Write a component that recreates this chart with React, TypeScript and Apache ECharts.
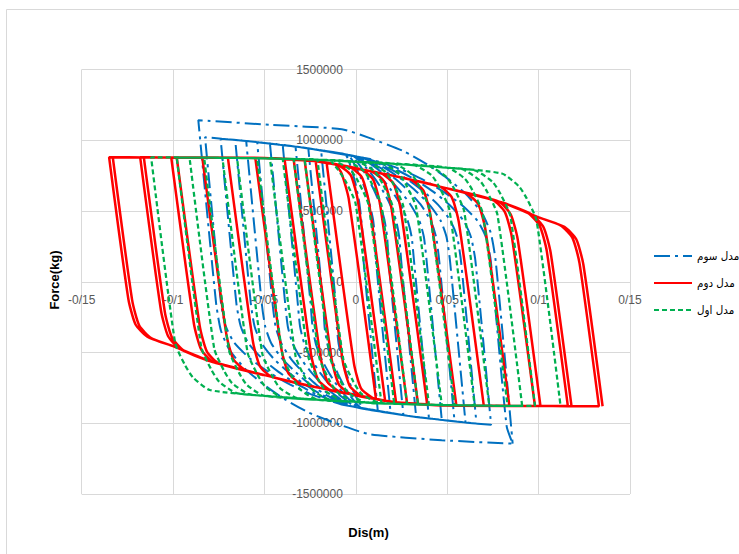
import React, { useEffect, useRef } from "react";
import * as echarts from "echarts";

const seriesNames = ["مدل سوم", "مدل دوم", "مدل اول"];
const seriesColors = ["#0070C0", "#FF0000", "#00B050"];

const xTickValues = [-0.15, -0.1, -0.05, 0, 0.05, 0.1, 0.15];
const xTickLabels = ["-0/15", "-0/1", "-0/05", "0", "0/05", "0/1", "0/15"];
const yTickValues = [-1500000, -1000000, -500000, 0, 500000, 1000000, 1500000];
const yTickLabels = ["-1500000", "-1000000", "-500000", "0", "500000", "1000000", "1500000"];

// مدل سوم (blue, dash-dot) — displacement (m), force (kg)
const model3Points: [number, number][] = [
  [-0.012, 911000], [-0.0055, 897000], [-0.0011, 739000], [0.0019, 558000], [0.0038, 321000], [0.0042, 150000], [0.012, -911000],
  [0.0042, -894000], [0.0002, -817000], [-0.0027, -736000], [-0.0051, -653000], [-0.0074, -556000], [-0.0094, -441000], [-0.0104, -320000], [-0.011, -150000], [-0.019, 926000],
  [-0.0042, 894000], [-0.0002, 817000], [0.0027, 736000], [0.0051, 653000], [0.0074, 556000], [0.0094, 441000], [0.0104, 320000], [0.011, 150000], [0.019, -926000],
  [0.0029, -891000], [-0.0026, -814000], [-0.0065, -734000], [-0.0098, -651000], [-0.013, -555000], [-0.0156, -440000], [-0.0171, -320000], [-0.0179, -150000], [-0.026, 941000],
  [-0.0029, 891000], [0.0026, 814000], [0.0065, 734000], [0.0098, 651000], [0.013, 555000], [0.0156, 440000], [0.0171, 320000], [0.0179, 150000], [0.026, -941000],
  [0.0016, -888000], [-0.0053, -811000], [-0.0103, -731000], [-0.0145, -649000], [-0.0185, -553000], [-0.0219, -439000], [-0.0237, -319000], [-0.0248, -150000], [-0.033, 955000],
  [-0.0016, 888000], [0.0053, 811000], [0.0103, 731000], [0.0145, 649000], [0.0185, 553000], [0.0219, 439000], [0.0237, 319000], [0.0248, 150000], [0.033, -955000],
  [0.0003, -886000], [-0.0081, -809000], [-0.0142, -730000], [-0.0193, -648000], [-0.0241, -552000], [-0.0282, -438000], [-0.0305, -319000], [-0.0318, -150000], [-0.04, 965000],
  [-0.03, 950000], [-0.0003, 886000], [0.0081, 809000], [0.0142, 730000], [0.0193, 648000], [0.0241, 552000], [0.0282, 438000], [0.0305, 319000], [0.0318, 150000], [0.04, -965000],
  [0.03, -950000], [-0.0011, -883000], [-0.0109, -807000], [-0.0181, -728000], [-0.024, -646000], [-0.0297, -550000], [-0.0346, -437000], [-0.0372, -318000], [-0.0387, -150000], [-0.047, 976000],
  [-0.03, 950000], [0.0011, 883000], [0.0109, 807000], [0.0181, 728000], [0.024, 646000], [0.0297, 550000], [0.0346, 437000], [0.0372, 318000], [0.0387, 150000], [0.047, -976000],
  [0.03, -950000], [-0.0024, -879000], [-0.0137, -803000], [-0.0219, -724000], [-0.0287, -643000], [-0.0353, -548000], [-0.0408, -435000], [-0.0439, -317000], [-0.0456, -150000], [-0.054, 986000],
  [-0.03, 950000], [0, 885000], [0.0024, 879000], [0.0137, 803000], [0.0219, 724000], [0.0287, 643000], [0.0353, 548000], [0.0408, 435000], [0.0439, 317000], [0.0456, 150000], [0.054, -986000],
  [0.03, -950000], [0, -885000], [-0.0035, -877000], [-0.0161, -801000], [-0.0252, -723000], [-0.0328, -641000], [-0.0401, -547000], [-0.0463, -434000], [-0.0496, -316000], [-0.0515, -150000], [-0.06, 995000],
  [-0.03, 950000], [0, 885000], [0.0035, 877000], [0.0161, 801000], [0.0252, 723000], [0.0328, 641000], [0.0401, 547000], [0.0463, 434000], [0.0496, 316000], [0.0515, 150000], [0.06, -995000],
  [0.03, -950000], [0, -885000], [-0.0047, -874000], [-0.0185, -799000], [-0.0285, -721000], [-0.0369, -639000], [-0.0449, -545000], [-0.0517, -433000], [-0.0554, -316000], [-0.0575, -150000], [-0.066, 1002000],
  [-0.06, 995000], [-0.03, 950000], [0, 885000], [0.0047, 874000], [0.0185, 799000], [0.0285, 721000], [0.0369, 639000], [0.0449, 545000], [0.0517, 433000], [0.0554, 316000], [0.0575, 150000], [0.066, -1002000],
  [0.06, -995000], [0.03, -950000], [0, -885000], [-0.0062, -870000], [-0.0217, -795000], [-0.033, -717000], [-0.0423, -637000], [-0.0513, -543000], [-0.0589, -432000], [-0.063, -315000], [-0.0654, -150000], [-0.074, 1011000],
  [-0.06, 995000], [-0.03, 950000], [0, 885000], [0.0062, 870000], [0.0217, 795000], [0.033, 717000], [0.0423, 637000], [0.0513, 543000], [0.0589, 432000], [0.063, 315000], [0.0654, 150000], [0.074, -1011000],
  [0.06, -995000], [0.03, -950000], [0, -885000], [-0.0078, -867000], [-0.0251, -792000], [-0.0377, -715000], [-0.0481, -635000], [-0.0581, -541000], [-0.0666, -430000], [-0.0712, -314000], [-0.0738, -150000], [-0.0825, 1021000],
  [-0.06, 995000], [-0.03, 950000], [0, 885000], [0.0078, 867000], [0.0251, 792000], [0.0377, 715000], [0.0481, 635000], [0.0581, 541000], [0.0666, 430000], [0.0712, 314000], [0.0738, 150000], [0.0825, -1021000],
  [0.0858, -1144000], [0.047, -1120000], [0.0077, -1078000], [-0.0077, -1015000], [-0.0257, -925000], [-0.0388, -831000], [-0.0497, -734000], [-0.0601, -621000], [-0.0689, -487000], [-0.0738, -346000], [-0.0765, -148000], [-0.0862, 1142000],
  [-0.047, 1109000], [-0.0077, 1078000], [0.0077, 1015000], [0.0257, 925000], [0.0388, 831000], [0.0497, 734000], [0.0601, 621000], [0.0689, 487000], [0.0738, 346000], [0.0765, 148000], [0.0858, -1144000],
];

// مدل دوم (red, solid)
const model2Points: [number, number][] = [
  [-0.011, 828000], [-0.0078, 766000], [-0.0039, 586000], [0.011, -828000],
  [0.0093, -823000], [0.0028, -753000], [-0.0011, -573000], [-0.016, 840000],
  [-0.0093, 823000], [-0.0028, 753000], [0.0011, 573000], [0.016, -840000],
  [0.0032, -808000], [-0.0033, -738000], [-0.0072, -558000], [-0.022, 852000],
  [-0.0032, 808000], [0.0033, 738000], [0.0072, 558000], [0.022, -852000],
  [-0.0029, -793000], [-0.0094, -723000], [-0.0133, -543000], [-0.028, 857000],
  [-0.02, 850000], [0.0029, 793000], [0.0094, 723000], [0.0133, 543000], [0.028, -857000],
  [0.02, -850000], [0, -800000], [-0.009, -777000], [-0.0155, -707000], [-0.0194, -527000], [-0.034, 862000],
  [-0.02, 850000], [0, 800000], [0.009, 777000], [0.0155, 707000], [0.0194, 527000], [0.034, -862000],
  [0.02, -850000], [0, -800000], [-0.0141, -765000], [-0.0206, -694000], [-0.0245, -514000], [-0.039, 866000],
  [-0.02, 850000], [0, 800000], [0.0141, 765000], [0.0206, 694000], [0.0245, 514000], [0.039, -866000],
  [0.02, -850000], [0, -800000], [-0.02, -750000], [-0.0305, -718000], [-0.037, -644000], [-0.0409, -464000], [-0.055, 875000],
  [-0.05, 875000], [-0.02, 850000], [0, 800000], [0.02, 750000], [0.0305, 718000], [0.037, 644000], [0.0409, 464000], [0.055, -875000],
  [0.05, -875000], [0.02, -850000], [0, -800000], [-0.02, -750000], [-0.046, -672000], [-0.0525, -596000], [-0.0564, -416000], [-0.07, 876000],
  [-0.05, 875000], [-0.02, 850000], [0, 800000], [0.02, 750000], [0.046, 672000], [0.0525, 596000], [0.0564, 416000], [0.07, -876000],
  [0.05, -875000], [0.02, -850000], [0, -800000], [-0.02, -750000], [-0.05, -660000], [-0.0605, -625000], [-0.067, -548000], [-0.0709, -368000], [-0.084, 877000],
  [-0.05, 875000], [-0.02, 850000], [0, 800000], [0.02, 750000], [0.05, 660000], [0.0605, 625000], [0.067, 548000], [0.0709, 368000], [0.084, -877000],
  [0.05, -875000], [0.02, -850000], [0, -800000], [-0.02, -750000], [-0.05, -660000], [-0.075, -577000], [-0.0815, -494000], [-0.0854, -314000], [-0.098, 878000],
  [-0.05, 875000], [-0.02, 850000], [0, 800000], [0.02, 750000], [0.05, 660000], [0.075, 577000], [0.0815, 494000], [0.0854, 314000], [0.098, -878000],
  [0.05, -875000], [0.02, -850000], [0, -800000], [-0.02, -750000], [-0.05, -660000], [-0.0782, -566000], [-0.0847, -477000], [-0.0886, -297000], [-0.101, 878000],
  [-0.05, 875000], [-0.02, 850000], [0, 800000], [0.02, 750000], [0.05, 660000], [0.0782, 566000], [0.0847, 477000], [0.0886, 297000], [0.101, -878000],
  [0.05, -875000], [0.02, -850000], [0, -800000], [-0.02, -750000], [-0.05, -660000], [-0.08, -560000], [-0.0941, -486000], [-0.1006, -395000], [-0.1045, -215000], [-0.116, 879000],
  [-0.1, 878000], [-0.05, 875000], [-0.02, 850000], [0, 800000], [0.02, 750000], [0.05, 660000], [0.08, 560000], [0.0941, 486000], [0.1006, 395000], [0.1045, 215000], [0.116, -879000],
  [0.1, -878000], [0.05, -875000], [0.02, -850000], [0, -800000], [-0.02, -750000], [-0.05, -660000], [-0.08, -560000], [-0.0962, -475000], [-0.1027, -385000], [-0.1066, -205000], [-0.118, 879000],
  [-0.1, 878000], [-0.05, 875000], [-0.02, 850000], [0, 800000], [0.02, 750000], [0.05, 660000], [0.08, 560000], [0.0962, 475000], [0.1027, 385000], [0.1066, 205000], [0.118, -879000],
  [0.1, -878000], [0.05, -875000], [0.02, -850000], [0, -800000], [-0.02, -750000], [-0.05, -660000], [-0.08, -560000], [-0.1, -455000], [-0.112, -398000], [-0.1185, -310000], [-0.1224, -130000], [-0.133, 880000],
  [-0.1, 878000], [-0.05, 875000], [-0.02, 850000], [0, 800000], [0.02, 750000], [0.05, 660000], [0.08, 560000], [0.1, 455000], [0.112, 398000], [0.1185, 310000], [0.1224, 130000], [0.133, -880000],
  [0.1, -878000], [0.05, -875000], [0.02, -850000], [0, -800000], [-0.02, -750000], [-0.05, -660000], [-0.08, -560000], [-0.1, -455000], [-0.1141, -388000], [-0.1206, -300000], [-0.1245, -120000], [-0.135, 880000],
  [-0.1, 878000], [-0.05, 875000], [-0.02, 850000], [0, 800000], [0.02, 750000], [0.05, 660000], [0.08, 560000], [0.1, 455000], [0.1141, 388000], [0.1206, 300000], [0.1245, 120000], [0.135, -880000],
];

// مدل اول (green, dashed)
const model1Points: [number, number][] = [
  [-0.014, 858000], [-0.0099, 795000], [-0.0056, 710000], [-0.0001, 550000], [0.014, -858000],
  [0.0121, -856000], [0.0029, -790000], [-0.0014, -705000], [-0.0069, -545000], [-0.021, 862000],
  [-0.0121, 856000], [-0.0029, 790000], [0.0014, 705000], [0.0069, 545000], [0.021, -862000],
  [0.005, -852000], [-0.0042, -785000], [-0.0085, -700000], [-0.014, -540000], [-0.028, 865000],
  [-0.02, 862000], [-0.005, 852000], [0.0042, 785000], [0.0085, 700000], [0.014, 540000], [0.028, -865000],
  [0.02, -862000], [-0.001, -847000], [-0.0102, -781000], [-0.0145, -696000], [-0.02, -536000], [-0.034, 867000],
  [-0.02, 862000], [0.001, 847000], [0.0102, 781000], [0.0145, 696000], [0.02, 536000], [0.034, -867000],
  [0.02, -862000], [0, -848000], [-0.007, -843000], [-0.0162, -776000], [-0.0205, -691000], [-0.026, -531000], [-0.04, 869000],
  [-0.02, 862000], [0, 848000], [0.007, 843000], [0.0162, 776000], [0.0205, 691000], [0.026, 531000], [0.04, -869000],
  [0.02, -862000], [0, -848000], [-0.014, -838000], [-0.0232, -770000], [-0.0275, -685000], [-0.033, -525000], [-0.047, 871000],
  [-0.02, 862000], [0, 848000], [0.014, 838000], [0.0232, 770000], [0.0275, 685000], [0.033, 525000], [0.047, -871000],
  [0.02, -862000], [0, -848000], [-0.0211, -833000], [-0.0303, -763000], [-0.0346, -678000], [-0.0401, -518000], [-0.054, 873000],
  [-0.02, 862000], [0, 848000], [0.0211, 833000], [0.0303, 763000], [0.0346, 678000], [0.0401, 518000], [0.054, -873000],
  [0.02, -862000], [0, -848000], [-0.02, -834000], [-0.0322, -823000], [-0.0414, -753000], [-0.0457, -668000], [-0.0512, -508000], [-0.065, 874000],
  [-0.05, 872000], [-0.02, 862000], [0, 848000], [0.02, 834000], [0.0322, 823000], [0.0414, 753000], [0.0457, 668000], [0.0512, 508000], [0.065, -874000],
  [0.05, -872000], [0.02, -862000], [0, -848000], [-0.02, -834000], [-0.0403, -815000], [-0.0495, -742000], [-0.0538, -657000], [-0.0593, -497000], [-0.073, 876000],
  [-0.05, 872000], [-0.02, 862000], [0, 848000], [0.02, 834000], [0.0403, 815000], [0.0495, 742000], [0.0538, 657000], [0.0593, 497000], [0.073, -876000],
  [0.05, -872000], [0.02, -862000], [0, -848000], [-0.02, -834000], [-0.0504, -805000], [-0.0596, -729000], [-0.0639, -644000], [-0.0694, -484000], [-0.083, 877000],
  [-0.05, 872000], [-0.02, 862000], [0, 848000], [0.02, 834000], [0.0504, 805000], [0.0596, 729000], [0.0639, 644000], [0.0694, 484000], [0.083, -877000],
  [0.05, -872000], [0.02, -862000], [0, -848000], [-0.02, -834000], [-0.05, -806000], [-0.0585, -794000], [-0.0677, -717000], [-0.072, -632000], [-0.0775, -472000], [-0.091, 878000],
  [-0.08, 877000], [-0.05, 872000], [-0.02, 862000], [0, 848000], [0.02, 834000], [0.05, 806000], [0.0585, 794000], [0.0677, 717000], [0.072, 632000], [0.0775, 472000], [0.091, -878000],
  [0.08, -877000], [0.05, -872000], [0.02, -862000], [0, -848000], [-0.02, -834000], [-0.05, -806000], [-0.0656, -785000], [-0.0748, -706000], [-0.0791, -621000], [-0.0846, -461000], [-0.098, 878000],
  [-0.08, 877000], [-0.05, 872000], [-0.02, 862000], [0, 848000], [0.02, 834000], [0.05, 806000], [0.0656, 785000], [0.0748, 706000], [0.0791, 621000], [0.0846, 461000], [0.098, -878000],
  [0.08, -877000], [0.05, -872000], [0.02, -862000], [0, -848000], [-0.02, -834000], [-0.05, -806000], [-0.0799, -765000], [-0.0891, -676000], [-0.0934, -591000], [-0.0989, -431000], [-0.112, 879000],
  [-0.08, 877000], [-0.05, 872000], [-0.02, 862000], [0, 848000], [0.02, 834000], [0.05, 806000], [0.0799, 765000], [0.0891, 676000], [0.0934, 591000], [0.0989, 431000], [0.112, -879000],
];

const xLabel = (v: number) => {
  const i = xTickValues.findIndex((t) => Math.abs(t - v) < 1e-9);
  return i >= 0 ? xTickLabels[i] : "";
};
const yLabel = (v: number) => {
  const i = yTickValues.findIndex((t) => Math.abs(t - v) < 1e-3);
  return i >= 0 ? yTickLabels[i] : "";
};

// plot box (px) — used to place both axes on the zero lines
const GRID_LEFT = 81.7;
const GRID_RIGHT = 109;
const GRID_TOP = 69.5;
const GRID_BOTTOM = 60;
const CHART_W = 739;
const CHART_H = 554;

export default function App() {
  const ref = useRef<HTMLDivElement>(null);
  useEffect(() => {
    if (!ref.current) return;
    const chart = echarts.init(ref.current, null, { renderer: "svg" });
    const gridColor = "#D9D9D9";
    const labelStyle = { color: "#595959", fontFamily: "Liberation Sans, Arial, sans-serif", fontSize: 12 };
    const plotW = CHART_W - GRID_LEFT - GRID_RIGHT;
    const plotH = CHART_H - GRID_TOP - GRID_BOTTOM;
    const yAxisShift = -plotW * (0 - xTickValues[0]) / (xTickValues[xTickValues.length - 1] - xTickValues[0]);
    const xAxisShift = -plotH * (0 - yTickValues[0]) / (yTickValues[yTickValues.length - 1] - yTickValues[0]);
    const lineCommon = { type: "line", symbol: "none", showSymbol: false, smooth: 0.2 };
    chart.setOption({
      animation: false,
      backgroundColor: "#ffffff",
      grid: { left: GRID_LEFT, right: GRID_RIGHT, top: GRID_TOP, bottom: GRID_BOTTOM, containLabel: false },
      xAxis: {
        type: "value",
        position: "bottom",
        offset: xAxisShift,
        min: -0.15,
        max: 0.15,
        interval: 0.05,
        axisLine: { show: true, onZero: false, lineStyle: { color: gridColor, width: 1 } },
        axisTick: { show: false },
        axisLabel: { ...labelStyle, margin: 12, formatter: xLabel },
        splitLine: { show: true, lineStyle: { color: gridColor, width: 1 } },
      },
      yAxis: {
        type: "value",
        position: "left",
        offset: yAxisShift,
        min: -1500000,
        max: 1500000,
        interval: 500000,
        axisLine: { show: true, onZero: false, lineStyle: { color: gridColor, width: 1 } },
        axisTick: { show: false },
        axisLabel: { ...labelStyle, margin: 13, formatter: yLabel },
        splitLine: { show: true, lineStyle: { color: gridColor, width: 1 } },
      },
      legend: {
        orient: "vertical",
        left: 648,
        top: 245,
        itemWidth: 38,
        itemHeight: 14,
        itemGap: 15,
        itemStyle: { color: "rgba(0,0,0,0)", borderWidth: 0, opacity: 0 },
        textStyle: { fontFamily: "DejaVu Sans Condensed, DejaVu Sans, sans-serif", fontSize: 11.5, color: "#000000" },
        data: seriesNames,
      },
      graphic: [
        {
          type: "rect",
          silent: true,
          shape: { x: 6.5, y: 9.5, width: 800, height: 700 },
          style: { fill: "none", stroke: "#D9D9D9", lineWidth: 1 },
        },
        {
          type: "text",
          silent: true,
          x: 54,
          y: 280,
          rotation: Math.PI / 2,
          style: {
            text: "Force(kg)",
            font: "bold 13px 'Liberation Sans', Arial, sans-serif",
            fill: "#000000",
            align: "center",
            verticalAlign: "middle",
          },
        },
        {
          type: "text",
          silent: true,
          x: 368.5,
          y: 532,
          style: {
            text: "Dis(m)",
            font: "bold 13px 'Liberation Sans', Arial, sans-serif",
            fill: "#000000",
            align: "center",
            verticalAlign: "middle",
          },
        },
      ],
      series: [
        {
          ...lineCommon,
          name: seriesNames[0],
          data: model3Points,
          lineStyle: { color: seriesColors[0], width: 2, type: [16, 5, 3, 5] },
          itemStyle: { color: seriesColors[0] },
        },
        {
          ...lineCommon,
          name: seriesNames[1],
          data: model2Points,
          lineStyle: { color: seriesColors[1], width: 2.5, type: "solid" },
          itemStyle: { color: seriesColors[1] },
        },
        {
          ...lineCommon,
          name: seriesNames[2],
          data: model1Points,
          lineStyle: { color: seriesColors[2], width: 2.25, type: [5, 3] },
          itemStyle: { color: seriesColors[2] },
        },
      ],
    });
    return () => chart.dispose();
  }, []);
  return (
    <div
      ref={ref}
      style={{ position: "absolute", left: 0, top: 0, width: CHART_W, height: CHART_H, background: "#ffffff" }}
    />
  );
}
